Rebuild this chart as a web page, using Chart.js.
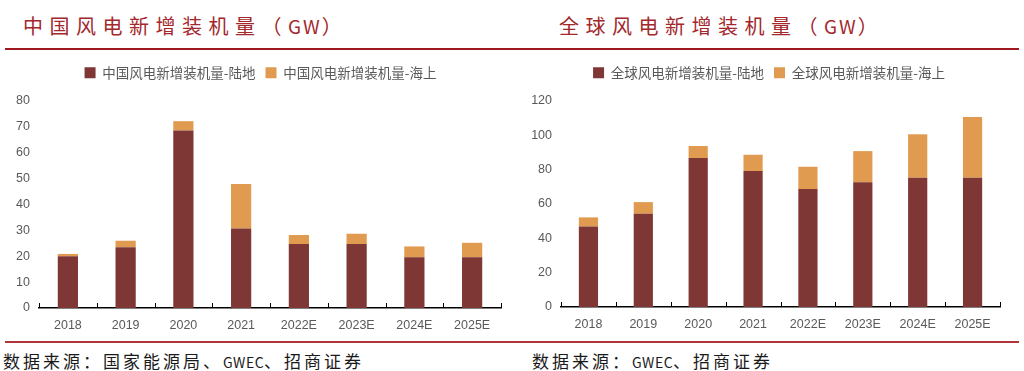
<!DOCTYPE html>
<html>
<head>
<meta charset="utf-8">
<script src="https://cdn.jsdelivr.net/npm/chart.js@4.4.0/dist/chart.umd.min.js"></script>
<style>
  html, body { margin:0; padding:0; background:#fff; }
  body { width:1024px; height:371px; position:relative; overflow:hidden; font-family:"Noto Sans CJK SC", sans-serif; }
  .title { position:absolute; top:14px; font-size:20px; line-height:24px; color:#a3272b; letter-spacing:6.5px; white-space:nowrap; }
  .title .lat { letter-spacing:2px; font-size:19px; }
  .rule-top { position:absolute; left:5px; width:1014px; top:48px; height:2px; background:#9e1a1e; }
  .rule-bot { position:absolute; left:5px; width:1014px; top:341px; height:1.5px; background:#b03538; }
  .src { position:absolute; top:351px; font-size:17px; line-height:20px; color:#1a1a1a; letter-spacing:3px; white-space:nowrap; }
  .src .lat { letter-spacing:0.5px; font-size:14px; }
  canvas { position:absolute; top:56px; }
</style>
</head>
<body>
<div class="title" style="left:23px;">中国风电新增装机量（<span class="lat">GW</span>）</div>
<div class="title" style="left:559px;">全球风电新增装机量（<span class="lat">GW</span>）</div>
<div class="rule-top"></div>
<canvas id="c1" width="512" height="284" style="left:0px;"></canvas>
<canvas id="c2" width="512" height="284" style="left:512px;"></canvas>
<div class="rule-bot"></div>
<div class="src" style="left:3px;">数据来源：国家能源局、<span class="lat">GWEC</span>、招商证券</div>
<div class="src" style="left:532px;">数据来源：<span class="lat">GWEC</span>、招商证券</div>
<script>
const categories = ['2018','2019','2020','2021','2022E','2023E','2024E','2025E'];
const chinaOnshore  = [20.0, 23.5, 68.6, 30.7, 24.7, 24.7, 19.6, 19.6];
const chinaOffshore = [0.9, 2.5, 3.6, 17.2, 3.5, 4.0, 4.2, 5.6];
const globalOnshore  = [46.9, 54.3, 86.8, 79.2, 68.7, 72.6, 75.3, 75.3];
const globalOffshore = [5.3, 6.8, 7.0, 9.5, 13.0, 18.2, 25.3, 35.4];
const chinaTicks = [0, 10, 20, 30, 40, 50, 60, 70, 80];
const globalTicks = [0, 20, 40, 60, 80, 100, 120];
const chinaLabels = ['中国风电新增装机量-陆地', '中国风电新增装机量-海上'];
const globalLabels = ['全球风电新增装机量-陆地', '全球风电新增装机量-海上'];

const LAND = '#7f3735';
const SEA = '#e09b50';
const GREY = '#595959';

const innerTicks = {
  id: 'innerTicks',
  afterDraw(chart) {
    const x = chart.scales.x, ctx = chart.ctx, n = chart.data.labels.length;
    ctx.save();
    ctx.strokeStyle = '#000';
    ctx.lineWidth = 1;
    for (let i = 0; i <= n; i++) {
      const px = Math.round(x.getPixelForValue(i - 0.5)) + 0.5;
      ctx.beginPath();
      ctx.moveTo(px, x.top);
      ctx.lineTo(px, x.top - 5);
      ctx.stroke();
    }
    ctx.restore();
  }
};
const legendTweak = (h, dx) => ({
  id: 'legendTweak',
  beforeInit(chart) {
    const lg = chart.legend;
    const origFit = lg.fit;
    lg.fit = function () { origFit.call(this); this.height = h; };
    const origDraw = lg.draw;
    lg.draw = function () {
      const ctx = this.ctx;
      ctx.save();
      ctx.translate(dx, 0);
      origDraw.call(this);
      ctx.restore();
    };
  }
});

function makeChart(id, land, sea, labels, ticks, yWidth, xHeight, padRight, legendDx) {
  const maxV = ticks[ticks.length - 1];
  const step = ticks[1] - ticks[0];
  return new Chart(document.getElementById(id), {
    type: 'bar',
    data: {
      labels: categories,
      datasets: [
        { label: labels[0], data: land, backgroundColor: LAND, borderWidth: 0, categoryPercentage: 1, barPercentage: 0.35 },
        { label: labels[1], data: sea, backgroundColor: SEA, borderWidth: 0, categoryPercentage: 1, barPercentage: 0.35 }
      ]
    },
    options: {
      responsive: false,
      devicePixelRatio: 1,
      animation: false,
      layout: { padding: { left: 0, right: padRight, top: 0, bottom: 0 } },
      plugins: {
        legend: {
          position: 'top',
          labels: { boxWidth: 11, boxHeight: 11, padding: 10, color: GREY, font: { family: '"Noto Sans CJK SC"', size: 13.5 } }
        },
        tooltip: { enabled: false }
      },
      scales: {
        x: {
          stacked: true,
          grid: { display: false, drawTicks: false },
          border: { display: true, color: '#000', width: 1.5 },
          ticks: { color: GREY, padding: 10, font: { family: '"Liberation Sans", Arial', size: 12.5 } },
          afterFit(s) { s.height = xHeight; }
        },
        y: {
          stacked: true,
          min: 0, max: maxV,
          grid: { display: false, drawTicks: false },
          border: { display: false },
          ticks: { stepSize: step, color: GREY, padding: 9, font: { family: '"Liberation Sans", Arial', size: 12.5 } },
          afterFit(s) { s.width = yWidth; }
        }
      }
    },
    plugins: [innerTicks, legendTweak(45, legendDx)]
  });
}
makeChart('c1', chinaOnshore, chinaOffshore, chinaLabels, chinaTicks, 39, 32, 11, 10);
makeChart('c2', globalOnshore, globalOffshore, globalLabels, globalTicks, 49, 33, 24, 13);
</script>
</body>
</html>
